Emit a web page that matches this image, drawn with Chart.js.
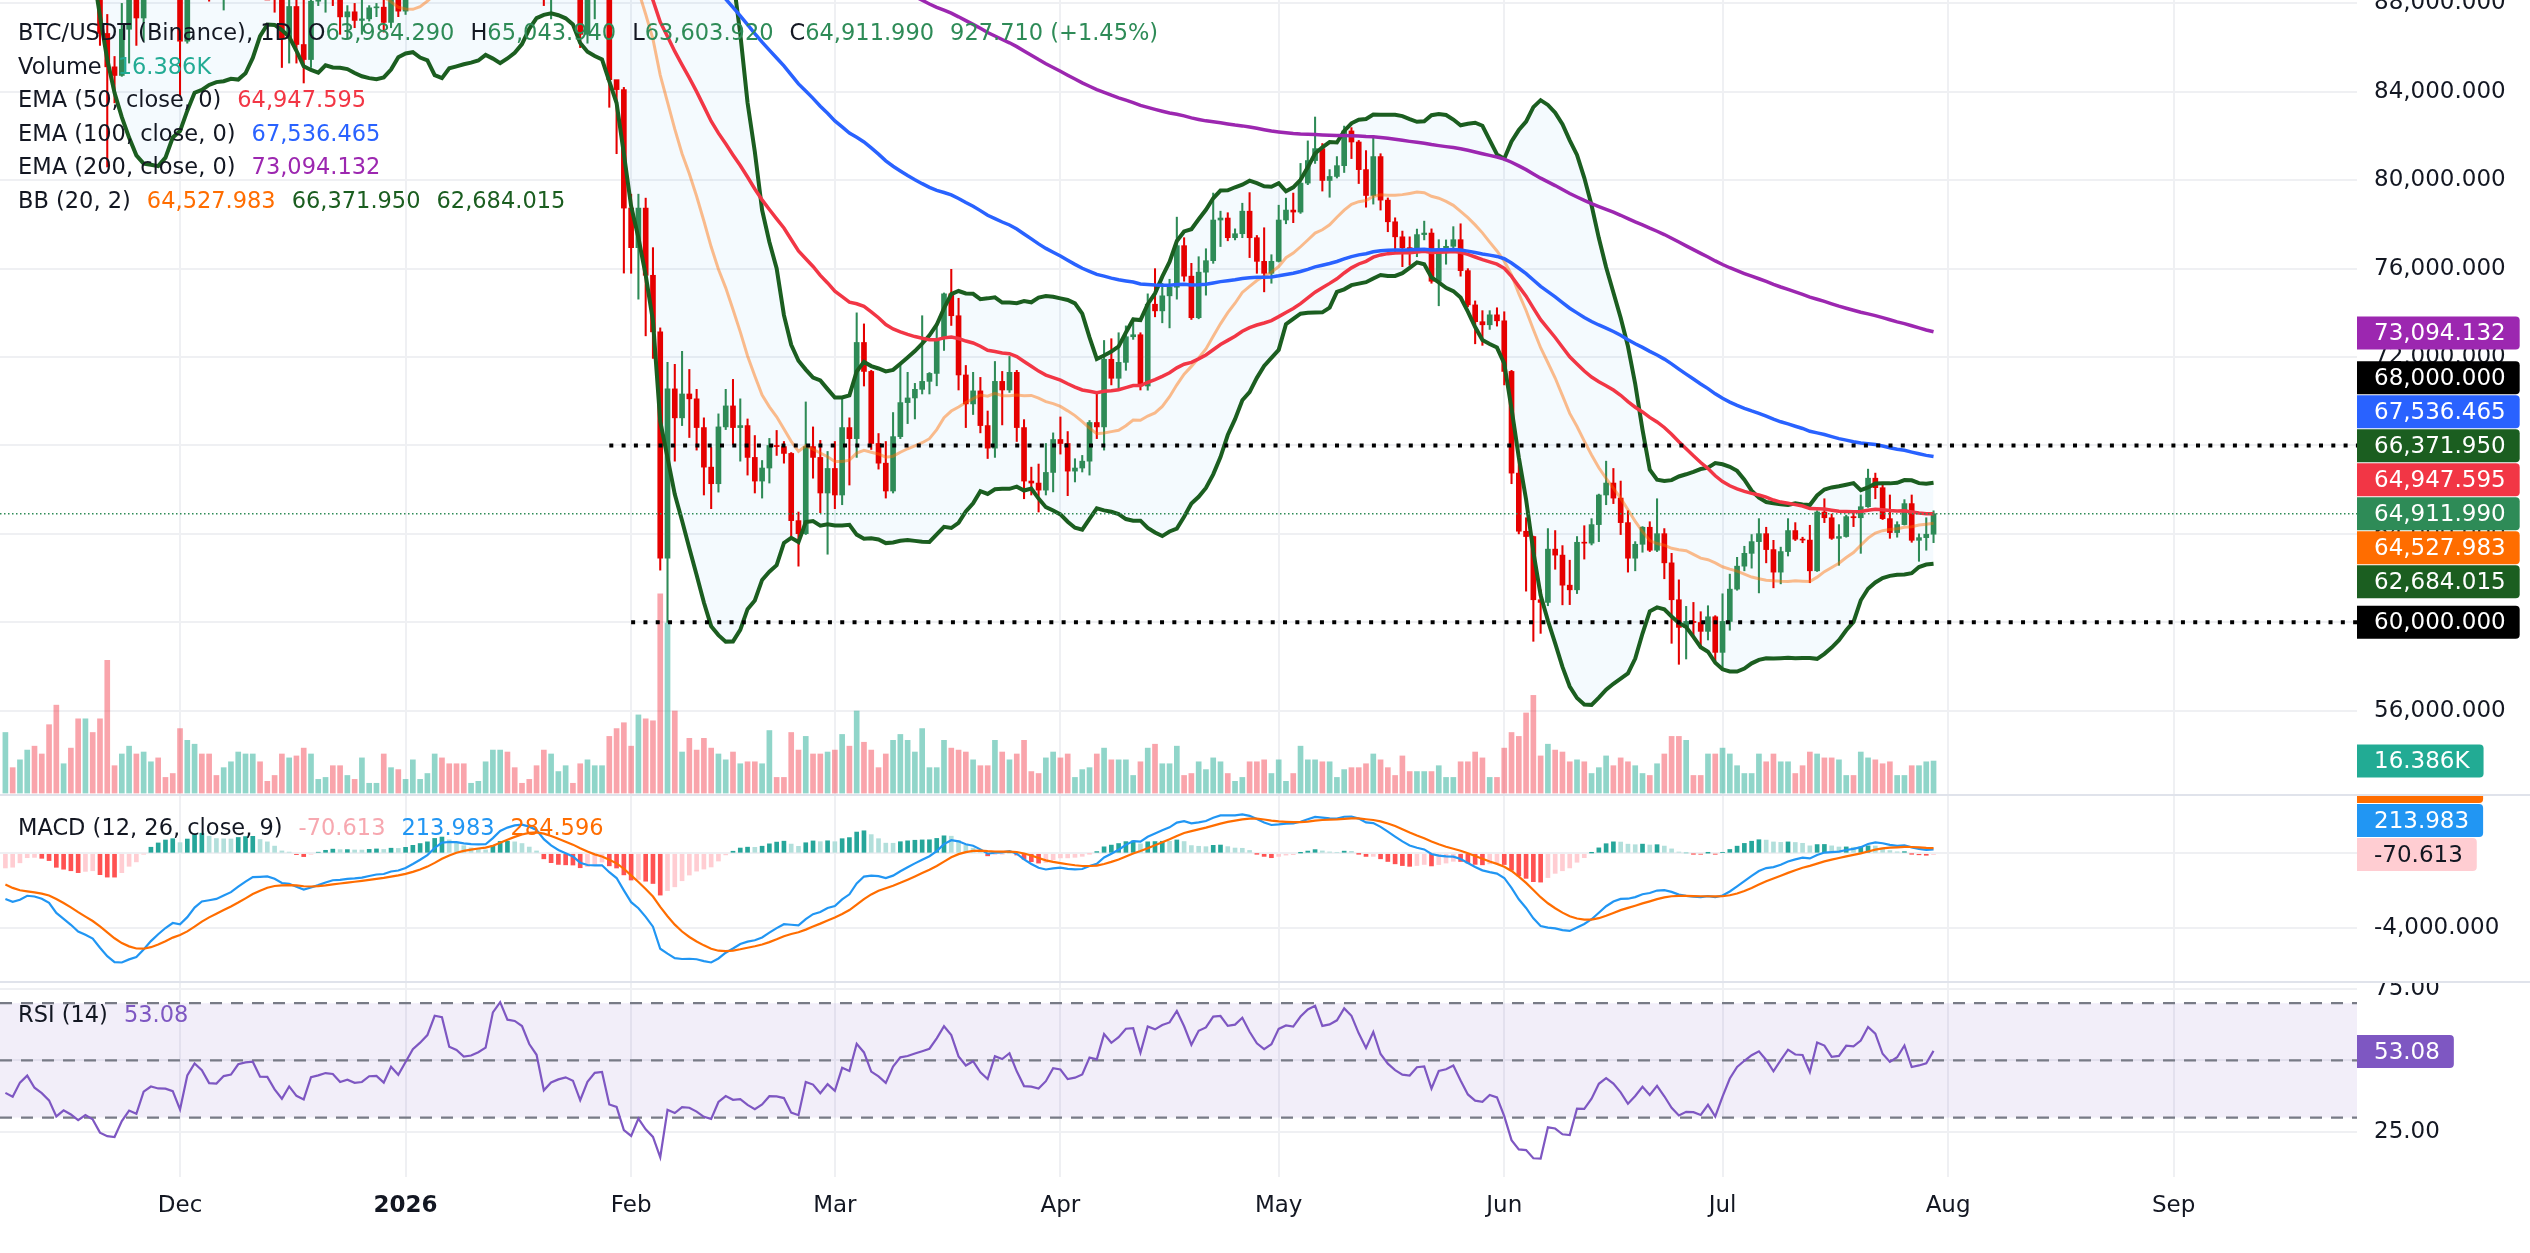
<!DOCTYPE html>
<html>
<head>
<meta charset="utf-8">
<script src="https://cdn.jsdelivr.net/npm/chart.js@4.4.1/dist/chart.umd.min.js"></script>
<style>
  html, body { margin: 0; padding: 0; background: #fff; }
  #wrap { position: relative; width: 2530px; height: 1253px; overflow: hidden; font-family: 'DejaVu Sans', sans-serif; }
  canvas { position: absolute; left: 0; }
  .sep { position: absolute; left: 0; width: 2530px; height: 2px; background: #e0e3eb; z-index: 3; }
  .legend { position: absolute; left: 18px; color: #131722; font-size: 22.5px; white-space: nowrap; z-index: 4; line-height: 33.5px; }
  .legend span.i { margin-left: 16px; }
</style>
</head>
<body>
<div id="wrap">
  <canvas id="cMain" width="2530" height="795" style="top:0"></canvas>
  <canvas id="cMacd" width="2530" height="187" style="top:795px"></canvas>
  <canvas id="cRsi" width="2530" height="271" style="top:982px"></canvas>
  <div class="sep" style="top:794px"></div>
  <div class="sep" style="top:981px"></div>
  <div class="legend" id="legMain" style="top:16px"></div>
  <div class="legend" id="legMacd" style="top:811px"></div>
  <div class="legend" id="legRsi" style="top:998px"></div>
</div>
<script>
// daily candles, 7 Nov 2025 .. 30 Jul 2026 (one value per day)
const closes = [
  // Nov
  103340, 102280, 104720, 105990, 103060, 101650, 99690, 94590, 95550, 94180, 92220, 92960, 91550, 86640, 85130, 84740, 86830, 88270, 87340, 90520, 91330, 90900, 90850, 90360,
  // Dec
  86290, 91280, 93430, 92080, 89330, 89240, 90400, 90630, 92200, 92500, 92600, 90270, 90240, 88170, 86420, 87860, 86140, 85460, 88100, 88340, 88620, 88490, 87390, 87620, 87230, 87300, 87800, 87830, 87140, 88430, 87650,
  // Jan
  88730, 89950, 90600, 91400, 93800, 93700, 91300, 91000, 90400, 90500, 90800, 91200, 95300, 97000, 95600, 95500, 95100, 93600, 92600, 88300, 89100, 89400, 89600, 89200, 86600, 88300, 89200, 89300, 84550, 84100, 78740,
  // Feb
  76950, 78740, 75700, 73140, 62900, 70560, 69250, 70330, 70110, 68810, 67020, 66270, 68840, 69790, 68810, 68900, 67460, 66390, 66980, 68000, 67950, 67640, 64600, 64010, 67950, 67460, 65850, 66960,
  // Mar
  65760, 68810, 68310, 72660, 71350, 68090, 67200, 65940, 68400, 69940, 70150, 70540, 70900, 71260, 72830, 74860, 73870, 71190, 69880, 70470, 68900, 67880, 70900, 70510, 71310, 68810, 66390, 66300, 65980, 66780, 68270,
  // Apr
  68090, 66840, 66980, 67290, 69040, 68840, 71900, 71040, 71760, 72920, 73010, 70690, 74390, 74090, 74770, 75160, 77040, 75660, 73780, 75840, 76360, 78200, 78290, 77400, 77580, 78600, 77400, 76330, 75790, 76330,
  // May
  78200, 78650, 78560, 79870, 80890, 81430, 79990, 80170, 80660, 82230, 81730, 80480, 79310, 81070, 79100, 78120, 77440, 76950, 76860, 77540, 77610, 75430, 76860, 77010, 77310, 75910, 74360, 73600, 73460, 73910, 73640,
  // Jun
  71350, 66750, 64120, 63880, 61020, 60900, 63310, 63040, 61680, 61470, 63620, 63580, 64420, 65760, 66300, 65620, 64510, 62900, 63530, 64300, 63260, 64010, 62690, 61020, 59770, 60040, 59990, 59590, 60250, 58640,
  // Jul
  60040, 61500, 62540, 63120, 63650, 64010, 63290, 62270, 63200, 64150, 63760, 63720, 62330, 64990, 64730, 63800, 63880, 64780, 64730, 65230, 66520, 66090, 64690, 64060, 64420, 65370, 63710, 63830, 63984.29, 64911.99
];
const highs = [
  104000, 103400, 105000, 106600, 107500, 105300, 104100, 99800, 96800, 96600, 96000, 93800, 93200, 93200, 87500, 85600, 88000, 89200, 88500, 90600, 91900, 93100, 91200, 92000,
  90400, 92300, 94200, 94100, 92700, 90300, 91800, 92300, 94600, 94500, 93000, 92700, 90600, 90500, 90000, 88200, 90400, 89500, 89400, 88600, 89100, 90600, 88900, 87900, 88000, 89500, 87900, 88000, 90400, 89300, 89200,
  88900, 90900, 90700, 91800, 94800, 94500, 93700, 91600, 91900, 90800, 91200, 92400, 96000, 97900, 97200, 95900, 95600, 95500, 93600, 92800, 90400, 90300, 91200, 89800, 89300, 88900, 89400, 90600, 89300, 84500, 84200,
  79370, 79370, 79190, 76950, 73320, 71760, 71670, 72260, 71440, 70540, 69250, 67910, 69430, 70540, 70990, 70110, 69200, 68450, 67320, 68320, 68680, 68180, 67680, 64990, 69970, 68840, 68230, 67730,
  68180, 70150, 69250, 74000, 73500, 71400, 68540, 68180, 69490, 71760, 71310, 70810, 73870, 71300, 73460, 74900, 75970, 74660, 71620, 71310, 71080, 69560, 71800, 71350, 72030, 71400, 69170, 67020, 67160, 68090, 68570,
  69290, 68630, 67400, 67550, 69130, 70420, 72750, 72830, 73100, 73410, 73770, 73100, 74860, 76000, 75340, 75520, 78330, 77400, 76240, 76540, 76900, 79420, 78600, 78530, 77800, 78960, 79440, 77500, 77850, 76630,
  78870, 79190, 79420, 80760, 81780, 82860, 81660, 80480, 81070, 82450, 82380, 81800, 81340, 82020, 81200, 79200, 78300, 77700, 77440, 77790, 78150, 77800, 77310, 77300, 77900, 78030, 76000, 74540, 74100, 74100, 74230,
  74050, 71400, 67460, 64730, 63900, 61470, 64240, 64150, 63470, 62810, 63880, 64370, 64690, 65800, 67290, 66960, 66390, 65050, 63650, 64330, 64550, 65590, 64240, 63120, 61920, 60720, 60900, 60480, 60750, 60300,
  61290, 62180, 62940, 63440, 63970, 64690, 64300, 63710, 63400, 64690, 64510, 63850, 64390, 65050, 65590, 64900, 64420, 64850, 65000, 65760, 66930, 66750, 66300, 65760, 64550, 65550, 65760, 64000, 64730, 65043.94
];
const lows = [
  99300, 101500, 101400, 104500, 102500, 100800, 98000, 94000, 94600, 93000, 91200, 89300, 88600, 86100, 80600, 83500, 84700, 85300, 86100, 86300, 90100, 90200, 90300, 90300,
  83800, 86200, 91000, 90900, 88100, 88900, 87700, 89600, 89600, 91600, 89300, 89500, 89800, 87600, 85100, 85300, 85300, 84400, 85100, 87900, 87600, 87900, 86600, 86400, 86900, 86600, 87200, 87400, 86700, 86900, 87400,
  87500, 88300, 89300, 90300, 91200, 91800, 90700, 89300, 89600, 90300, 90200, 90000, 90900, 94800, 95000, 94300, 95000, 92900, 91900, 87900, 87300, 88500, 88500, 89100, 86000, 86200, 87300, 88800, 83300, 81200, 75800,
  75790, 74620, 72960, 71940, 62360, 60000, 67290, 68900, 68360, 67790, 65760, 65140, 65890, 68720, 68040, 67290, 66660, 65850, 65620, 66300, 67550, 67200, 63880, 62540, 63970, 66520, 64960, 63080,
  65140, 65320, 66210, 67460, 70690, 67820, 66930, 65620, 65850, 68310, 68990, 69200, 70330, 70330, 70700, 72300, 73430, 70510, 68810, 69400, 68570, 67410, 67460, 68930, 70400, 68180, 65590, 65760, 64990, 65760, 65900,
  67610, 65730, 66350, 66800, 66660, 68310, 67790, 70740, 70510, 71400, 72800, 70510, 70500, 73820, 73550, 73320, 74620, 75430, 73700, 73730, 74800, 76240, 77000, 77260, 77300, 77400, 76500, 75790, 74950, 75340,
  76300, 78030, 78080, 78500, 79800, 80760, 79510, 79230, 80100, 80350, 80980, 79850, 78780, 78920, 78650, 77670, 76770, 76090, 76150, 76540, 77300, 75340, 74320, 76200, 76900, 75660, 74270, 72600, 72530, 73250, 73400,
  70740, 66270, 64000, 61410, 59140, 59500, 60750, 62400, 60790, 60800, 61300, 62860, 63500, 63650, 65320, 65370, 63970, 62270, 62330, 63170, 63200, 63200, 61970, 59050, 58100, 58340, 59410, 58870, 59200, 58250,
  57890, 59640, 61450, 62330, 62450, 61330, 62690, 61560, 61740, 63000, 63700, 63600, 61790, 62300, 64510, 63750, 62580, 63850, 64330, 63120, 65200, 65590, 64650, 63800, 63850, 64400, 63620, 62760, 63260, 63603.92
];
// volume in thousands of BTC
const volumes = [
  31, 13, 17, 22, 24, 20, 35, 45, 15, 23, 38, 38, 31, 38, 68, 14, 20, 24, 20, 21, 16, 18, 8, 10,
  33, 27, 25, 20, 20, 9, 13, 16, 21, 20, 20, 16, 6, 9, 20, 18, 19, 23, 20, 7, 8, 14, 14, 9, 7, 18, 5, 5, 20, 13, 12,
  7, 17, 7, 10, 20, 18, 15, 15, 15, 5, 6, 16, 22, 22, 21, 13, 5, 7, 14, 22, 20, 11, 14, 5, 15, 17, 14, 14, 29, 33, 36,
  24, 40, 38, 37, 102, 87, 42, 21, 28, 22, 28, 23, 20, 17, 21, 15, 16, 16, 15, 32, 8, 8, 31, 22, 29, 20, 20, 21,
  22, 30, 24, 42, 26, 22, 13, 20, 27, 30, 27, 21, 33, 13, 13, 27, 23, 22, 21, 17, 14, 14, 27, 21, 17, 20, 27, 11, 10, 18, 21,
  18, 20, 8, 12, 13, 20, 23, 17, 17, 17, 9, 16, 23, 25, 15, 15, 24, 9, 10, 16, 12, 18, 16, 10, 6, 8, 16, 16, 17, 10,
  17, 6, 10, 24, 17, 17, 16, 16, 8, 12, 13, 13, 15, 20, 17, 13, 9, 19, 11, 11, 11, 11, 14, 8, 8, 16, 16, 21, 18, 8, 8,
  23, 31, 29, 41, 50, 19, 25, 22, 21, 16, 17, 16, 10, 13, 19, 14, 18, 16, 14, 10, 9, 15, 20, 29, 29, 27, 9, 9, 20, 20,
  23, 20, 14, 10, 10, 20, 16, 20, 16, 16, 10, 14, 21, 20, 18, 18, 17, 9, 9, 21, 18, 17, 15, 16, 9, 9, 14, 14, 16, 16.386
];
// closes 19 Oct .. 6 Nov 2025 (warm-up for the indicators, off screen)
const priorCloses = [108640, 110530, 108390, 107570, 110040, 111010, 111630, 114530, 114110, 112930, 110040, 108320, 109610, 110100, 110580, 106530, 101500, 103880, 101300];
const emaPeriods = [50, 100, 200];
const emaSeeds = [113500, 113000, 108000];
const macdSeeds = [112000, 113500, -800];
const rsiSeeds = [1100, 1800];

const levels = [68000, 60000];
const levelStart = [83, 86];

const monthTicks = [24, 55, 86, 114, 145, 175, 206, 236, 267, 298];
const monthLabels = ['Dec', '2026', 'Feb', 'Mar', 'Apr', 'May', 'Jun', 'Jul', 'Aug', 'Sep'];
const priceTicks = [56000, 60000, 64000, 68000, 72000, 76000, 80000, 84000, 88000];
const macdTicks = [-4000, 0];
const rsiTicks = [25, 50, 75];

// last values shown in the legends and on the price scale
const ohlcText = ['63,984.290', '65,043.940', '63,603.920', '64,911.990', '927.710 (+1.45%)'];
const volText = '16.386K';
const emaText = ['64,947.595', '67,536.465', '73,094.132'];
const bbText = ['64,527.983', '66,371.950', '62,684.015'];
const macdText = ['-70.613', '213.983', '284.596'];
const rsiText = '53.08';

const UP = '#2e8b57', DOWN = '#e50000';
const GRID = '#eff0f3';
const FONT = 'DejaVu Sans';
const XMIN = -0.742, XMAX = 323.2;

// ---- indicators ----
const P = priorCloses.length;
const all = priorCloses.concat(closes);
const opens = closes.map((c, i) => all[P + i - 1]);

function ema(src, n, seed) {
  const k = 2 / (n + 1);
  let e = seed;
  return src.map(v => (e = v * k + e * (1 - k)));
}
const emas = emaPeriods.map((n, k) => ema(all, n, emaSeeds[k]).slice(P));

const bbMid = [], bbUp = [], bbLo = [];
for (let j = P; j < all.length; j++) {
  const w = all.slice(j - 19, j + 1);
  const m = w.reduce((a, b) => a + b, 0) / 20;
  const sd = Math.sqrt(w.reduce((a, b) => a + (b - m) * (b - m), 0) / 20);
  bbMid.push(m); bbUp.push(m + 2 * sd); bbLo.push(m - 2 * sd);
}

const e12 = ema(all, 12, macdSeeds[0]);
const e26 = ema(all, 26, macdSeeds[1]);
const macdAll = e12.map((v, j) => v - e26[j]);
const sigAll = ema(macdAll, 9, macdSeeds[2]);
const histAll = macdAll.map((v, j) => v - sigAll[j]);

let g = rsiSeeds[0], l = rsiSeeds[1];
const rsiAll = [50];
for (let j = 1; j < all.length; j++) {
  const d = all[j] - all[j - 1];
  g = (g * 13 + Math.max(d, 0)) / 14;
  l = (l * 13 + Math.max(-d, 0)) / 14;
  rsiAll.push(100 - 100 / (1 + g / l));
}

const pts = arr => arr.map((v, i) => ({ x: i, y: v }));
const isUp = closes.map((c, i) => c >= opens[i]);

// ---- shared helpers ----
const fmt3 = v => Number(v).toLocaleString('en-US', { minimumFractionDigits: 3, maximumFractionDigits: 3 });

function xScale(showLabels) {
  return {
    type: 'linear', min: XMIN, max: XMAX, offset: false,
    grid: { color: GRID, lineWidth: 2, drawTicks: false, offset: false },
    border: { display: false },
    ticks: {
      display: showLabels, autoSkip: false, maxRotation: 0, padding: 15, color: '#131722',
      font: c => ({ family: FONT, size: 23, weight: c.index === 1 ? 'bold' : 'normal' }),
      callback: v => monthLabels[monthTicks.indexOf(v)]
    },
    afterBuildTicks: s => { s.ticks = monthTicks.map(v => ({ value: v })); },
    afterFit: s => { s.height = showLabels ? 76 : 0; s.paddingLeft = 0; s.paddingRight = 0; }
  };
}
function yScale(min, max, tickVals, fmt) {
  return {
    position: 'right', min: min, max: max,
    grid: { color: GRID, lineWidth: 2, drawTicks: false },
    border: { display: false },
    ticks: { color: '#131722', padding: 17, autoSkip: false, font: { family: FONT, size: 23 }, callback: fmt },
    afterBuildTicks: s => { s.ticks = tickVals.map(v => ({ value: v })); },
    afterFit: s => { s.width = 173; s.paddingTop = 0; s.paddingBottom = 0; }
  };
}
function hline(y, from, color, width, dash, order) {
  return { type: 'line', data: [{ x: from, y: y }, { x: XMAX, y: y }], borderColor: color, borderWidth: width,
    borderDash: dash, pointRadius: 0, order: order };
}
function line(arr, color, width, order, extra) {
  return Object.assign({ type: 'line', data: pts(arr), borderColor: color, borderWidth: width, pointRadius: 0,
    tension: 0, order: order }, extra || {});
}

// price-scale tags, pushed apart around the anchored one
const tagPlugin = {
  id: 'tags',
  afterDraw(chart, args, opts) {
    const list = opts.items || [];
    if (!list.length) return;
    const ctx = chart.ctx, right = chart.chartArea.right, h = 33;
    const items = list.map(t => Object.assign({}, t, { y: chart.scales[t.axis].getPixelForValue(t.value) }));
    items.sort((a, b) => a.y - b.y);
    let a = items.findIndex(t => t.anchor);
    if (a < 0) a = 0;
    for (let k = a - 1; k >= 0; k--) items[k].y = Math.min(items[k].y, items[k + 1].y - h - 1);
    for (let k = a + 1; k < items.length; k++) items[k].y = Math.max(items[k].y, items[k - 1].y + h + 1);
    ctx.save();
    ctx.font = '23px "' + FONT + '"';
    ctx.textBaseline = 'middle';
    items.forEach(t => {
      const w = ctx.measureText(t.text).width + 31;
      ctx.fillStyle = t.bg;
      ctx.beginPath();
      ctx.roundRect(right, t.y - h / 2, w, h, [0, 4, 4, 0]);
      ctx.fill();
      ctx.fillStyle = t.fg || '#ffffff';
      ctx.fillText(t.text, right + 17, t.y + 1);
    });
    ctx.restore();
  }
};

const baseOpts = () => ({
  responsive: false, animation: false, devicePixelRatio: 1,
  layout: { padding: 0, autoPadding: false },
  events: []
});

// ---- main pane ----
const lastClose = closes[closes.length - 1];
const mainOpts = baseOpts();
mainOpts.plugins = {
  legend: { display: false }, tooltip: { enabled: false },
  filler: { drawTime: 'beforeDatasetsDraw' },
  tags: { items: [
    { axis: 'y', value: 73094.132, text: emaText[2], bg: '#9c27b0' },
    { axis: 'y', value: levels[0], text: fmt3(levels[0]), bg: '#000000' },
    { axis: 'y', value: 67536.465, text: emaText[1], bg: '#2962ff' },
    { axis: 'y', value: 66371.950, text: bbText[1], bg: '#1b5e20' },
    { axis: 'y', value: 64947.595, text: emaText[0], bg: '#f23645' },
    { axis: 'y', value: lastClose, text: fmt3(lastClose), bg: UP, anchor: true },
    { axis: 'y', value: 64527.983, text: bbText[0], bg: '#ff6d00' },
    { axis: 'y', value: 62684.015, text: bbText[2], bg: '#1b5e20' },
    { axis: 'y', value: levels[1], text: fmt3(levels[1]), bg: '#000000' },
    { axis: 'yv', value: volumes[volumes.length - 1], text: volText, bg: '#22ab94' }
  ] }
};
mainOpts.scales = {
  x: xScale(false),
  y: yScale(52187, 88154, priceTicks, v => fmt3(v)),
  yv: { display: false, min: -1, max: 406 }
};

new Chart(document.getElementById('cMain'), {
  type: 'bar',
  data: { datasets: [
    line(bbUp, '#1b5e20', 4, 2, { fill: '+1', backgroundColor: 'rgba(33,150,243,0.05)' }),
    line(bbLo, '#1b5e20', 4, 2),
    line(bbMid, 'rgba(255,109,0,0.45)', 3, 3),
    line(emas[2], '#9c27b0', 3.5, 1),
    line(emas[1], '#2962ff', 3.5, 1),
    line(emas[0], '#f23645', 3.5, 1),
    hline(levels[0], levelStart[0], '#000000', 4, [4, 8.3], 0),
    hline(levels[1], levelStart[1], '#000000', 4, [4, 8.3], 0),
    hline(lastClose, XMIN, UP, 1.5, [1.5, 2.5], 0),
    { type: 'bar', data: closes.map((c, i) => ({ x: i, y: [opens[i], c] })), grouped: false, barThickness: 5,
      minBarLength: 1, backgroundColor: isUp.map(u => u ? UP : DOWN), borderWidth: 0, order: 5 },
    { type: 'bar', data: closes.map((c, i) => ({ x: i, y: [lows[i], highs[i]] })), grouped: false, barThickness: 1.4,
      backgroundColor: isUp.map(u => u ? UP : DOWN), borderWidth: 0, order: 6 },
    { type: 'bar', yAxisID: 'yv', data: pts(volumes), grouped: false, barThickness: 5, borderWidth: 0,
      backgroundColor: isUp.map(u => u ? 'rgba(34,171,148,0.5)' : 'rgba(242,54,69,0.45)'), order: 9 }
  ] },
  options: mainOpts,
  plugins: [tagPlugin]
});

// ---- MACD pane ----
const hist = histAll.slice(P);
const histColors = hist.map((h, i) => {
  const prev = histAll[P + i - 1];
  if (h >= 0) return h > prev ? '#26a69a' : '#b2dfdb';
  return h < prev ? '#ff5252' : '#ffcdd2';
});
const macdOpts = baseOpts();
macdOpts.plugins = {
  legend: { display: false }, tooltip: { enabled: false },
  tags: { items: [
    { axis: 'y', value: 284.596, text: macdText[2], bg: '#ff6d00' },
    { axis: 'y', value: 213.983, text: macdText[1], bg: '#2196f3' },
    { axis: 'y', value: -70.613, text: macdText[0], bg: '#ffcdd2', fg: '#131722', anchor: true }
  ] }
};
macdOpts.scales = { x: xScale(false), y: yScale(-6919, 3134, macdTicks, v => fmt3(v)) };
new Chart(document.getElementById('cMacd'), {
  type: 'bar',
  data: { datasets: [
    line(sigAll.slice(P), '#ff6d00', 2.2, 0),
    line(macdAll.slice(P), '#2196f3', 2.2, 1),
    { type: 'bar', data: pts(hist), grouped: false, barThickness: 4, borderWidth: 0, backgroundColor: histColors, order: 3 }
  ] },
  options: macdOpts,
  plugins: [tagPlugin]
});

// ---- RSI pane ----
const rsiOpts = baseOpts();
rsiOpts.plugins = {
  legend: { display: false }, tooltip: { enabled: false },
  filler: { drawTime: 'beforeDatasetsDraw' },
  tags: { items: [{ axis: 'y', value: 53.08, text: rsiText, bg: '#7e57c2', anchor: true }] }
};
rsiOpts.scales = { x: xScale(true), y: yScale(9.2, 77.4, rsiTicks, v => v.toFixed(2)) };
new Chart(document.getElementById('cRsi'), {
  type: 'line',
  data: { datasets: [
    Object.assign(hline(70, XMIN, '#787b86', 2.2, [12, 9], 2), { fill: '+1', backgroundColor: 'rgba(126,87,194,0.1)' }),
    hline(30, XMIN, '#787b86', 2.2, [12, 9], 2),
    hline(50, XMIN, '#787b86', 2.2, [12, 9], 2),
    line(rsiAll.slice(P), '#7e57c2', 2.2, 0)
  ] },
  options: rsiOpts,
  plugins: [tagPlugin]
});

// ---- legends ----
const sp = (t, c) => '<span' + (c ? ' style="color:' + c + '"' : '') + '>' + t + '</span>';
const it = (k, v, c) => '<span class="i">' + k + sp(v, c) + '</span>';
document.getElementById('legMain').innerHTML = [
  'BTC/USDT (Binance), 1D' + it('O', ohlcText[0], UP) + it('H', ohlcText[1], UP) + it('L', ohlcText[2], UP) +
    it('C', ohlcText[3], UP) + it('', ohlcText[4], UP),
  'Volume' + it('', volText, '#22ab94'),
  'EMA (50, close, 0)' + it('', emaText[0], '#f23645'),
  'EMA (100, close, 0)' + it('', emaText[1], '#2962ff'),
  'EMA (200, close, 0)' + it('', emaText[2], '#9c27b0'),
  'BB (20, 2)' + it('', bbText[0], '#ff6d00') + it('', bbText[1], '#1b5e20') + it('', bbText[2], '#1b5e20')
].map(r => '<div>' + r + '</div>').join('');
document.getElementById('legMacd').innerHTML = 'MACD (12, 26, close, 9)' + it('', macdText[0], '#f7a8b0') +
  it('', macdText[1], '#2196f3') + it('', macdText[2], '#ff6d00');
document.getElementById('legRsi').innerHTML = 'RSI (14)' + it('', rsiText, '#7e57c2');
</script>
</body>
</html>
